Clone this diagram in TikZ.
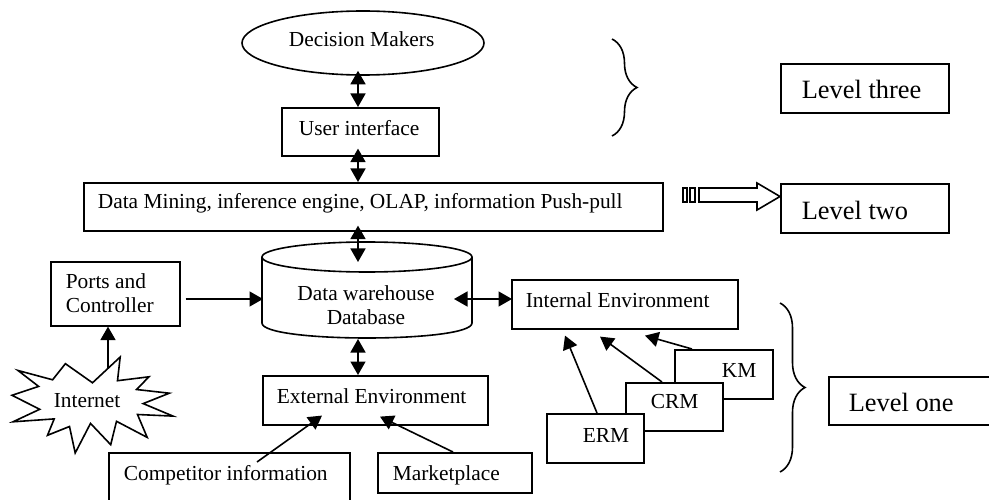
\documentclass[tikz,border=0pt]{standalone}
\usepackage{fontspec}
\setmainfont{Liberation Serif}
\usetikzlibrary{arrows.meta,calc,decorations.pathreplacing,shapes.geometric}
\begin{document}
\begin{tikzpicture}[x=1pt,y=-1pt,
  line width=1.6pt,
  every node/.style={font=\fontsize{21.4}{25}\selectfont},
  box/.style={draw, fill=white, rectangle, inner sep=0pt, anchor=north west},
  txt/.style={inner sep=0pt, anchor=base west},
  lvl/.style={inner sep=0pt, anchor=base west, font=\fontsize{26.4}{30}\selectfont},
  tip/.tip={Triangle[length=13.5pt,width=15pt]},
  arr/.style={-tip},
  darr/.style={tip-tip},
  brc/.style={decorate, decoration={brace, amplitude=25pt}}
]
\useasboundingbox (0,0) rectangle (989,500);
\clip (0,0) rectangle (989,500);

% common vertical axis of the central column
\coordinate (ax) at (358,0);

% top level: decision makers and user interface
\node[draw, ellipse, inner sep=0pt, minimum width=242pt, minimum height=64pt] (dmk) at (363,43) {};
\node[txt] (dmkt) at (288,47) {Decision Makers};
\node[box, minimum width=157pt, minimum height=48pt] (ui) at (281,107) {};
\node[txt] (uit) at (298,136) {User interface};

% analysis layer
\node[box, minimum width=579pt, minimum height=48pt] (dmb) at (83,182) {};
\node[txt] (dmbt) at (97,209) {Data Mining, inference engine, OLAP, information Push-pull};

% data warehouse cylinder
\draw (262,257) -- (262,323) .. controls (262,343) and (472,343) .. (472,323) -- (472,257);
\draw (367,257) ellipse [x radius=105, y radius=15];
\node[inner sep=0pt, align=center, font=\fontsize{21.4}{24}\selectfont] (dwt) at (366,305) {Data warehouse\\Database};
\coordinate (dwtop) at (358,262);
\coordinate (dwbot) at (358,339);
\coordinate (dwl) at (263,299);
\coordinate (dwr) at (454,299);

% sources on the left
\node[box, minimum width=129pt, minimum height=64pt] (pc) at (50,261) {};
\node[txt] (pct1) at (65,288) {Ports and};
\node[txt] (pct2) at (65,312) {Controller};

\draw[fill=white] (92.5,382.8) -- (120.2,357) -- (117.5,380.7) -- (149,376.8) -- (136.5,389.5)
  -- (169.3,393.2) -- (143.2,403.6) -- (173,416.1) -- (137.5,414.5) -- (147.2,437.4)
  -- (116.5,421.3) -- (110.7,444.7) -- (90.5,423.4) -- (75.2,453) -- (69.5,426.5)
  -- (47.5,435.3) -- (54.2,418.9) -- (13,421.8) -- (39.7,409.3) -- (12,395.3)
  -- (38.6,386.4) -- (18,370.5) -- (52.6,379.8) -- (65.4,363.7) -- cycle;
\node[txt] (net) at (53,407) {Internet};
\coordinate (netout) at (108,368);

% external environment and its inputs
\node[box, minimum width=225pt, minimum height=49pt] (ext) at (262,375) {};
\node[txt] (extt) at (276,403) {External Environment};
\node[box, minimum width=241pt, minimum height=60pt] (ci) at (108,452) {};
\node[txt] (cit) at (123,480) {Competitor information};
\node[box, minimum width=154pt, minimum height=40pt] (mp) at (377,452) {};
\node[txt] (mpt) at (392,480) {Marketplace};

% internal environment and its inputs
\node[box, minimum width=226pt, minimum height=49pt] (ie) at (511,279) {};
\node[txt] (iet) at (525,307) {Internal Environment};
\node[box, minimum width=98pt, minimum height=49pt] (km) at (674,349) {};
\node[txt] (kmt) at (721,377) {KM};
\node[box, minimum width=97pt, minimum height=48pt] (crm) at (625,382) {};
\node[txt] (crmt) at (650,408) {CRM};
\node[box, minimum width=97pt, minimum height=49pt] (erm) at (546,413) {};
\node[txt] (ermt) at (582,442) {ERM};

% level labels
\node[box, minimum width=168pt, minimum height=49pt] (l3) at (780,63) {};
\node[lvl] (l3t) at (801,99) {Level three};
\node[box, minimum width=168pt, minimum height=49pt] (l2) at (780,183) {};
\node[lvl] (l2t) at (801,219) {Level two};
\node[box, minimum width=175pt, minimum height=48pt] (l1) at (828,376) {};
\node[lvl] (l1t) at (848,411) {Level one};

% braces
\draw[brc] (612,39) -- (612,136);
\draw[brc] (780,303) -- (780,472);

% striped block arrow pointing at level two
\draw (683,188) rectangle (687,202);
\draw (690,188) rectangle (695,202);
\draw (699,188) -- (757,188) -- (757,183) -- (l2.west |- 0,196.5) -- (757,210) -- (757,202) -- (699,202) -- cycle;

% connectors of the central column (upper heads reach into the shape above)
\draw[darr] ($(dmk.south -| ax)+(0,-5)$) -- (ui.north -| ax);
\draw[darr] ($(ui.south -| ax)+(0,-8)$) -- (dmb.north -| ax);
\draw[darr] ($(dmb.south -| ax)+(0,-6)$) -- (dwtop);
\draw[darr] (dwbot) -- (ext.north -| ax);

% side connectors
\draw[arr] ($(pc.north east)+(5,38)$) -- (dwl);
\draw[darr] (dwr) -- ($(ie.north west)+(1,20)$);
\draw[arr] (netout) -- ($(pc.south west)+(58,0)$);
\draw[arr] ($(ci.north west)+(149,10)$) -- ($(ext.south west)+(60,-10)$);
\draw[arr] ($(mp.north west)+(76,0)$) -- ($(ext.south west)+(118,-9)$);
\draw[arr] ($(erm.north west)+(51,0)$) -- ($(ie.south west)+(54,6)$);
\draw[arr] ($(crm.north west)+(37,0)$) -- ($(ie.south west)+(89,7)$);
\draw[arr] ($(km.north west)+(18,0)$) -- ($(ie.south west)+(134,6)$);
\end{tikzpicture}
\end{document}
